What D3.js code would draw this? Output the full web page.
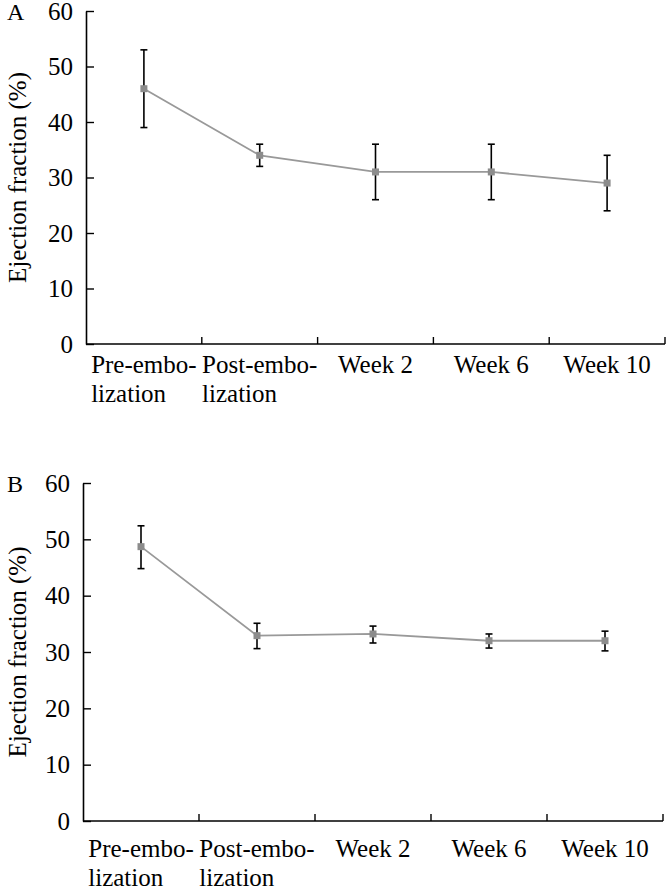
<!DOCTYPE html>
<html>
<head>
<meta charset="utf-8">
<script src="https://cdn.jsdelivr.net/npm/d3@7"></script>
<style>
  html, body { margin: 0; padding: 0; background: #fff; }
  svg { display: block; }
</style>
</head>
<body>
<svg id="chart" width="666" height="890"></svg>
<script>
// ---- data ----
const categories = [["Pre-embo-", "lization"], ["Post-embo-", "lization"], ["Week 2"], ["Week 6"], ["Week 10"]];
const yTicks = [0, 10, 20, 30, 40, 50, 60];
const yTitle = "Ejection fraction (%)";

const meanA  = [46, 34, 31, 31, 29];
const upperA = [53, 36, 36, 36, 34];
const lowerA = [39, 32, 26, 26, 24];

const meanB  = [48.7, 32.9, 33.2, 32.0, 32.0];
const upperB = [52.4, 35.1, 34.6, 33.2, 33.7];
const lowerB = [44.8, 30.6, 31.6, 30.7, 30.2];

// ---- drawing ----
const FONT = '"Liberation Serif", "Times New Roman", "DejaVu Serif", serif';
const svg = d3.select("#chart").style("font-family", FONT);

function panel(cfg) {
  const { letter, mean, upper, lower, left, right, top, bottom, labelGap, titleX } = cfg;
  const g = svg.append("g");
  const keys = categories.map((c, i) => i);
  const x = d3.scaleBand().domain(keys).range([left, right]).padding(0);
  const y = d3.scaleLinear().domain([0, 60]).range([bottom, top]);

  // y axis (inward ticks)
  const yAxis = d3.axisLeft(y).tickValues(yTicks).tickSize(-8).tickSizeOuter(0).tickPadding(13);
  const ya = g.append("g").attr("transform", `translate(${left},0)`).call(yAxis);
  ya.attr("font-family", null).attr("font-size", null);
  ya.select(".domain").attr("stroke", "#000").attr("stroke-width", 1.6);
  ya.selectAll(".tick line").attr("stroke", "#000").attr("stroke-width", 1.4);
  ya.selectAll(".tick text")
    .style("font-family", FONT).style("font-size", "25px").attr("fill", "#000");

  // x axis line
  g.append("line").attr("x1", left).attr("x2", right).attr("y1", bottom).attr("y2", bottom)
    .attr("stroke", "#000").attr("stroke-width", 1.6);
  // x ticks at band boundaries (inward)
  g.selectAll(".xtick").data(keys).enter().append("line")
    .attr("x1", d => x(d) + x.bandwidth()).attr("x2", d => x(d) + x.bandwidth())
    .attr("y1", bottom).attr("y2", bottom - 7)
    .attr("stroke", "#000").attr("stroke-width", 1.4);

  // x labels
  keys.forEach(i => {
    const lines = categories[i];
    const cx = x(i) + x.bandwidth() / 2;
    const t = g.append("text")
      .style("font-family", FONT).style("font-size", "25px")
      .attr("y", bottom + labelGap);
    lines.forEach((ln, j) => {
      t.append("tspan").attr("x", 0).attr("dy", j === 0 ? 0 : 29).text(ln);
    });
    const w = t.select("tspan").node().getComputedTextLength();
    t.selectAll("tspan").attr("x", cx - w / 2);
  });

  // line
  const line = d3.line().x((d, i) => x(i) + x.bandwidth() / 2).y(d => y(d));
  g.append("path").datum(mean).attr("d", line)
    .attr("fill", "none").attr("stroke", "#999").attr("stroke-width", 1.8);

  // error bars
  const cap = 3.5;
  keys.forEach(i => {
    const cx = x(i) + x.bandwidth() / 2;
    g.append("line").attr("x1", cx).attr("x2", cx).attr("y1", y(upper[i])).attr("y2", y(lower[i]))
      .attr("stroke", "#000").attr("stroke-width", 1.6);
    [upper[i], lower[i]].forEach(v => {
      g.append("line").attr("x1", cx - cap).attr("x2", cx + cap).attr("y1", y(v)).attr("y2", y(v))
        .attr("stroke", "#000").attr("stroke-width", 1.6);
    });
  });

  // markers
  g.selectAll(".mk").data(mean).enter().append("rect")
    .attr("x", (d, i) => x(i) + x.bandwidth() / 2 - 3.5)
    .attr("y", d => y(d) - 3.5)
    .attr("width", 7).attr("height", 7)
    .attr("fill", "#8c8c8c");

  // panel letter
  g.append("text").attr("x", 7).attr("y", top + 9)
    .style("font-family", FONT).style("font-size", "24px").text(letter);

  // y title
  g.append("text")
    .attr("transform", `translate(${titleX},${(top + bottom) / 2}) rotate(-90)`)
    .attr("text-anchor", "middle")
    .style("font-family", FONT).style("font-size", "25px")
    .text(yTitle);
}

panel({ letter: "A", mean: meanA, upper: upperA, lower: lowerA,
        left: 86, right: 665, top: 11, bottom: 344, labelGap: 29, titleX: 26 });
panel({ letter: "B", mean: meanB, upper: upperB, lower: lowerB,
        left: 83, right: 663, top: 483, bottom: 821, labelGap: 36, titleX: 26 });
</script>
</body>
</html>
